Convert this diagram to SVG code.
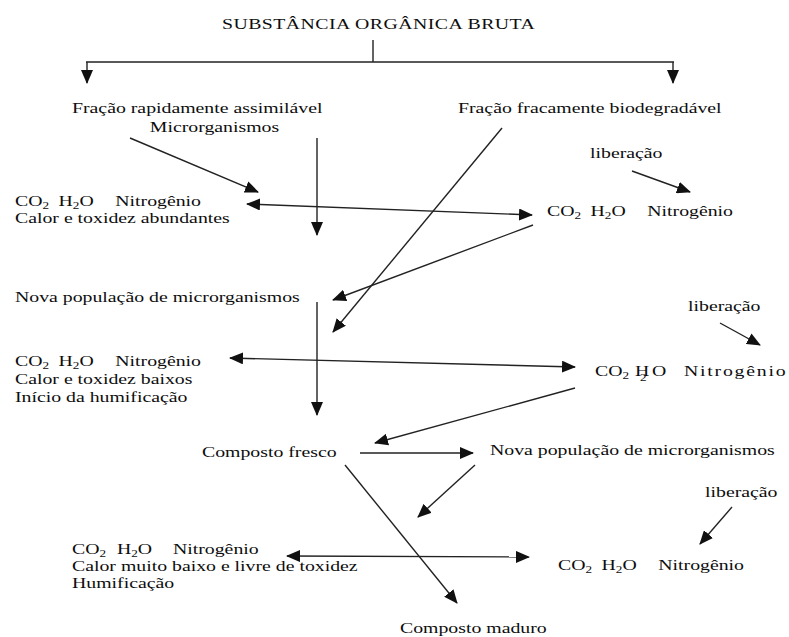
<svg xmlns="http://www.w3.org/2000/svg" width="789" height="637" viewBox="0 0 789 637">
<style>
.t{font-family:"Liberation Serif","Times New Roman",serif;font-size:15px;fill:#0d0d0d}
.s{font-size:10px}
.c line{stroke:#222;stroke-width:1.4;fill:none}
</style>
<defs>
<marker id="ah" markerUnits="userSpaceOnUse" markerWidth="14" markerHeight="12" refX="13" refY="6" orient="auto-start-reverse" viewBox="0 0 14 12">
<path d="M0,0 L14,6 L0,12 z" fill="#111"/>
</marker>
</defs>
<rect width="789" height="637" fill="#fff"/>

<g class="c" id="connectors">
<line x1="373" y1="40" x2="373" y2="62"/>
<line x1="86" y1="62" x2="674" y2="62"/>
<line x1="87" y1="62" x2="87" y2="83" marker-end="url(#ah)"/>
<line x1="673" y1="62" x2="673" y2="83" marker-end="url(#ah)"/>
<line x1="130" y1="138" x2="258" y2="192" marker-end="url(#ah)"/>
<line x1="317" y1="138" x2="317" y2="235" marker-end="url(#ah)"/>
<line x1="247" y1="204" x2="532" y2="215" marker-start="url(#ah)" marker-end="url(#ah)"/>
<line x1="502" y1="128" x2="333" y2="332" marker-end="url(#ah)"/>
<line x1="533" y1="225" x2="333" y2="300" marker-end="url(#ah)"/>
<line x1="632" y1="171" x2="690" y2="192" marker-end="url(#ah)"/>
<line x1="317" y1="302" x2="317" y2="415" marker-end="url(#ah)"/>
<line x1="230" y1="358" x2="575" y2="367" marker-start="url(#ah)" marker-end="url(#ah)"/>
<line x1="720" y1="323" x2="760" y2="345" marker-end="url(#ah)"/>
<line x1="575" y1="388" x2="375" y2="443" marker-end="url(#ah)"/>
<line x1="360" y1="453" x2="473" y2="453" marker-end="url(#ah)"/>
<line x1="475" y1="465" x2="418" y2="517" marker-end="url(#ah)"/>
<line x1="732" y1="507" x2="700" y2="544" marker-end="url(#ah)"/>
<line x1="287" y1="556" x2="529" y2="557" marker-start="url(#ah)" marker-end="url(#ah)"/>
<line x1="345" y1="465" x2="457" y2="603" marker-end="url(#ah)"/>
</g>

<g id="titulo"><text class="t" transform="matrix(1.32 0 0 1 222 0)" x="0" y="29" textLength="237" lengthAdjust="spacing">SUBSTÂNCIA ORGÂNICA  BRUTA</text></g>

<g id="fracao-rapida"><text class="t" transform="matrix(1.32 0 0 1 72 0)"><tspan x="0" y="113">Fração rapidamente assimilável</tspan><tspan x="59" y="132">Microrganismos</tspan></text></g>

<g id="fracao-fraca"><text class="t" transform="matrix(1.32 0 0 1 458 0)" x="0" y="113">Fração fracamente biodegradável</text></g>

<g id="bloco1"><text class="t" transform="matrix(1.32 0 0 1 15 0)"><tspan x="0" y="206">CO<tspan class="s" dy="3">2</tspan><tspan x="33" dy="-3">H</tspan><tspan class="s" dy="3">2</tspan><tspan dy="-3">O</tspan><tspan x="76">Nitrogênio</tspan></tspan><tspan x="0" y="223">Calor e toxidez abundantes</tspan></text></g>

<g id="liberacao1"><text class="t" transform="matrix(1.32 0 0 1 590 0)" x="0" y="158">liberação</text></g>

<g id="direita1"><text class="t" transform="matrix(1.32 0 0 1 547 0)"><tspan x="0" y="216">CO<tspan class="s" dy="3">2</tspan><tspan x="33" dy="-3">H</tspan><tspan class="s" dy="3">2</tspan><tspan dy="-3">O</tspan><tspan x="76">Nitrogênio</tspan></tspan></text></g>

<g id="nova-pop1"><text class="t" transform="matrix(1.32 0 0 1 15 0)" x="0" y="302">Nova população de microrganismos</text></g>

<g id="liberacao2"><text class="t" transform="matrix(1.32 0 0 1 688 0)" x="0" y="311">liberação</text></g>

<g id="bloco2"><text class="t" transform="matrix(1.32 0 0 1 15 0)"><tspan x="0" y="366">CO<tspan class="s" dy="3">2</tspan><tspan x="33" dy="-3">H</tspan><tspan class="s" dy="3">2</tspan><tspan dy="-3">O</tspan><tspan x="76">Nitrogênio</tspan></tspan><tspan x="0" y="384">Calor e toxidez baixos</tspan><tspan x="0" y="402">Início da humificação</tspan></text></g>

<g id="direita2"><text class="t" transform="matrix(1.32 0 0 1 595 0)"><tspan x="0" y="376">CO<tspan class="s" dy="3">2</tspan><tspan x="30.3" dy="-3">H</tspan><tspan class="s" dx="-7" dy="5">2</tspan><tspan x="43.2" dy="-5">O</tspan><tspan x="67.4" textLength="77" lengthAdjust="spacing">Nitrogênio</tspan></tspan></text></g>

<g id="composto-fresco"><text class="t" transform="matrix(1.32 0 0 1 202 0)" x="0" y="457">Composto fresco</text></g>

<g id="nova-pop2"><text class="t" transform="matrix(1.32 0 0 1 490 0)" x="0" y="455">Nova população de microrganismos</text></g>

<g id="liberacao3"><text class="t" transform="matrix(1.32 0 0 1 705 0)" x="0" y="497">liberação</text></g>

<g id="bloco3"><text class="t" transform="matrix(1.32 0 0 1 72 0)"><tspan x="0" y="554">CO<tspan class="s" dy="3">2</tspan><tspan x="34" dy="-3">H</tspan><tspan class="s" dy="3">2</tspan><tspan dy="-3">O</tspan><tspan x="76.5">Nitrogênio</tspan></tspan><tspan x="0" y="571">Calor muito baixo e livre de toxidez</tspan><tspan x="0" y="588">Humificação</tspan></text></g>

<g id="direita3"><text class="t" transform="matrix(1.32 0 0 1 558 0)"><tspan x="0" y="570">CO<tspan class="s" dy="3">2</tspan><tspan x="33" dy="-3">H</tspan><tspan class="s" dy="3">2</tspan><tspan dy="-3">O</tspan><tspan x="76">Nitrogênio</tspan></tspan></text></g>

<g id="composto-maduro"><text class="t" transform="matrix(1.32 0 0 1 400 0)" x="0" y="633">Composto maduro</text></g>
</svg>
